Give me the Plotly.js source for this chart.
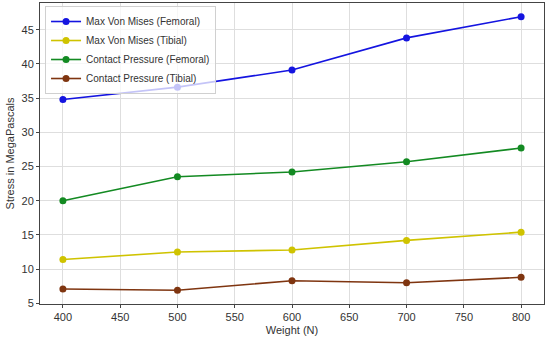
<!DOCTYPE html>
<html><head><meta charset="utf-8">
<script src="https://cdn.plot.ly/plotly-3.0.1.min.js"></script>
<style>html,body{margin:0;padding:0;background:#fff;}#chart{width:550px;height:339px;}</style>
</head><body><div id="chart"></div>
<script>
const weights = [400, 500, 600, 700, 800];
const vonMisesFemoral = [34.8, 36.6, 39.1, 43.8, 46.9];
const vonMisesTibial = [11.4, 12.5, 12.8, 14.2, 15.4];
const contactFemoral = [20.0, 23.5, 24.2, 25.7, 27.7];
const contactTibial = [7.1, 6.9, 8.3, 8.0, 8.8];
const seriesNames = ["Max Von Mises (Femoral)", "Max Von Mises (Tibial)", "Contact Pressure (Femoral)", "Contact Pressure (Tibial)"];
const xTicks = [400, 450, 500, 550, 600, 650, 700, 750, 800];
const yTicks = [5, 10, 15, 20, 25, 30, 35, 40, 45];

const colors = ["#1414e0", "#cfc300", "#138a22", "#7f3510"];
const seriesData = [vonMisesFemoral, vonMisesTibial, contactFemoral, contactTibial];
const traces = seriesData.map((ys, i) => ({
  x: weights, y: ys, name: seriesNames[i], type: "scatter", mode: "lines+markers",
  line: {color: colors[i], width: 1.6},
  marker: {color: colors[i], size: 7}
}));

const axisCommon = {
  showline: true, linecolor: "#444", linewidth: 1, mirror: true,
  showgrid: true, gridcolor: "#dedede", gridwidth: 1,
  ticks: "outside", ticklen: 3, tickcolor: "#444",
  tickfont: {family: "Liberation Sans, Arial, sans-serif", size: 11, color: "#333"},
  zeroline: false
};

const layout = {
  width: 550, height: 339,
  margin: {l: 40, r: 6, t: 3, b: 35},
  paper_bgcolor: "#fff", plot_bgcolor: "#fff",
  xaxis: Object.assign({}, axisCommon, {
    range: [380, 820], tickvals: xTicks,
    title: {text: "Weight (N)", standoff: 4, font: {family: "Liberation Sans, Arial, sans-serif", size: 11, color: "#333"}}
  }),
  yaxis: Object.assign({}, axisCommon, {
    range: [4.9, 48.9], tickvals: yTicks,
    title: {text: "Stress in MegaPascals", standoff: 4, font: {family: "Liberation Sans, Arial, sans-serif", size: 11, color: "#333"}}
  }),
  legend: {
    x: 0.01, y: 0.99, xanchor: "left", yanchor: "top",
    bgcolor: "rgba(255,255,255,0.75)", bordercolor: "#d0d0d0", borderwidth: 1,
    font: {family: "Liberation Sans, Arial, sans-serif", size: 10, color: "#333"},
    tracegroupgap: 0, itemwidth: 30
  },
  showlegend: true
};

Plotly.newPlot("chart", traces, layout, {displayModeBar: false, staticPlot: true});
</script></body></html>
